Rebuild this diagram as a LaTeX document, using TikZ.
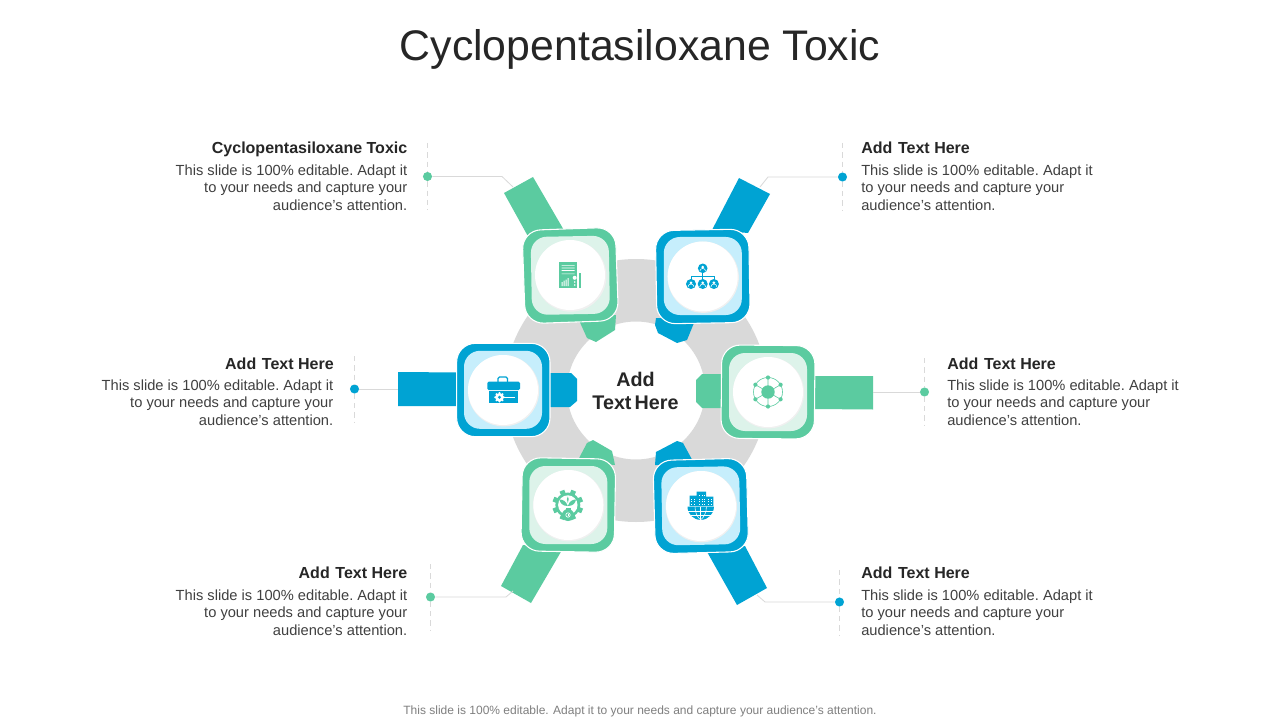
\documentclass[tikz,border=0pt]{standalone}
\usepackage{fontspec}
\setmainfont{Liberation Sans}
\definecolor{gr}{HTML}{5BCBA0}
\definecolor{bl}{HTML}{00A3D3}
\definecolor{lgr}{HTML}{DDF3EA}
\definecolor{lbl}{HTML}{C6EEFC}
\definecolor{ring}{HTML}{D9D9D9}
\definecolor{ttl}{HTML}{262626}
\definecolor{body}{HTML}{404040}
\definecolor{foot}{HTML}{7F7F7F}
\tikzset{
  x=0.75pt,y=-0.75pt,
  outerbox/.style={draw=white,line width=0.8pt,rounded corners=14pt,minimum size=70pt,inner sep=0pt},
  innerbox/.style={rounded corners=12pt,minimum size=58.5pt,inner sep=0pt},
  disc/.style={circle,fill=white,minimum size=52.5pt,inner sep=0pt},
  discshadow/.style={circle,fill=black!6,minimum size=53.5pt,inner sep=0pt},
  leader/.style={draw=ring,line width=0.6pt},
  dashrule/.style={draw=ring,line width=0.6pt,dash pattern=on 4pt off 3pt},
  dot/.style={circle,minimum size=6.8pt,inner sep=0pt},
  rtext/.style={anchor=north east,align=right,inner sep=0pt,text=body,font=\fontsize{11}{13.1}\selectfont\frenchspacing},
  ltext/.style={anchor=north west,align=left,inner sep=0pt,text=body,font=\fontsize{11}{13.1}\selectfont\frenchspacing},
  rhead/.style={anchor=base east,inner sep=0pt,text=ttl,font=\fontsize{12}{14}\selectfont\bfseries},
  lhead/.style={anchor=base west,inner sep=0pt,text=ttl,font=\fontsize{12}{14}\selectfont\bfseries},
}
\begin{document}
\begin{tikzpicture}
\useasboundingbox (0,0) rectangle (1280,720);
\fill[white] (0,0) rectangle (1280,720);
% title
\node[inner sep=0pt,text=ttl,font=\fontsize{32.1}{36}\selectfont] (title) at (640,49.5) {Cyclopentasiloxane Toxic};
% ring
\fill[ring,even odd rule] (636,390.5) circle (131.5) (636,390.5) circle (69);
% straps and tabs
\fill[gr] (504,193)--(533,177)--(565,232)--(530,240)--cycle;
\fill[gr] (578,318)--(616,315)--(615,330)--(596,342)--(587,338)--cycle;
\fill[bl] (739,178)--(770,194)--(748,233)--(712,230)--cycle;
\fill[bl] (656,318)--(696,318)--(687,340)--(677,343)--(658,333)--(655,325)--cycle;
\fill[bl] (398,372)--(460,372.5)--(460,406)--(398,406)--cycle;
\fill[bl] (548,373)--(571,373)--(577,379)--(577,401)--(570,407)--(548,407)--cycle;
\fill[gr] (812,376)--(873,376)--(873,409.5)--(812,409)--cycle;
\fill[gr] (724,374)--(702,374)--(696,380)--(696,402)--(702,408)--(724,408)--cycle;
\fill[gr] (523,545)--(562,550)--(531,603)--(501,586)--cycle;
\fill[gr] (577,462)--(587,443)--(593,440)--(612,451)--(615,465)--cycle;
\fill[bl] (706,550)--(745,546)--(767,588)--(737,605)--cycle;
\fill[bl] (655,465)--(656,452)--(677,441)--(683,443)--(695,465)--cycle;
% squares
\node[outerbox,fill=gr,rotate=2] (sqTL) at (570.3,275.5) {};
\node[innerbox,fill=lgr,rotate=1] (inTL) at (570.3,275.3) {};
\node[discshadow] at (570.8,276) {};
\node[disc] (cTL) at (570,275) {};
\node[outerbox,fill=bl,rotate=1] (sqTR) at (702.8,276.5) {};
\node[innerbox,fill=lbl] (inTR) at (702.8,276) {};
\node[discshadow] at (703.2,277.2) {};
\node[disc] (cTR) at (702.7,276.5) {};
\node[outerbox,fill=bl] (sqL) at (503.3,390) {};
\node[innerbox,fill=lbl] (inL) at (503,389.8) {};
\node[discshadow] at (503.5,390.7) {};
\node[disc] (cL) at (503,390) {};
\node[outerbox,fill=gr,rotate=-0.5] (sqR) at (768,392) {};
\node[innerbox,fill=lgr] (inR) at (768,392) {};
\node[discshadow] at (768.5,392.7) {};
\node[disc] (cR) at (768,392) {};
\node[outerbox,fill=gr,rotate=-1] (sqBL) at (568.3,505) {};
\node[innerbox,fill=lgr] (inBL) at (568.3,505) {};
\node[discshadow] at (568.8,505.7) {};
\node[disc] (cBL) at (568.3,505) {};
\node[outerbox,fill=bl,rotate=1.5] (sqBR) at (700.8,506) {};
\node[innerbox,fill=lbl,rotate=1] (inBR) at (700.8,505.8) {};
\node[discshadow] at (701.3,506.7) {};
\node[disc] (cBR) at (701,506) {};
% centre text
\node[inner sep=0pt,align=center,text=ttl,font=\fontsize{14.8}{17.3}\selectfont\bfseries] (centre) at (635.5,391) {Add\\Text\hspace{-0.12em} Here};
% icon: document
\fill[gr] (559.3,262.3) rectangle (576.7,287.7);
\fill[gr] (578.7,272.5) rectangle (580.7,287.7);
\fill[white] (561.5,265) rectangle (574.5,265.7) (561.5,267.6) rectangle (574.5,268.3) (561.5,270.2) rectangle (574.5,270.9) (561.5,273.5) rectangle (574.5,274.2);
\fill[white] (561.5,286) rectangle (562.5,282) (563.5,286) rectangle (564.5,280.5) (565.5,286) rectangle (566.5,279.5) (567.5,286) rectangle (568.5,278);
\fill[white] (574.7,277.8) circle (2) (574.7,282) circle (.9) (574.7,285) circle (.9);
% icon: org chart
\draw[bl,line width=0.6pt] (702.7,268) -- (702.7,284) (691,284) -- (691,276.7) -- (713.9,276.7) -- (713.9,284);
\fill[bl] (702.7,268.3) circle (4.8) (691,284) circle (5) (702.7,284) circle (5) (713.9,284) circle (5);
\fill[white] (702.7,267.2) circle (1.5) (691,282.8) circle (1.5) (702.7,282.8) circle (1.5) (713.9,282.8) circle (1.5);
\draw[white,line width=0.4pt] (699.8,271.3) arc (180:360:2.9) (688,287) arc (180:360:3) (699.7,287) arc (180:360:3) (710.9,287) arc (180:360:3);
% icon: toolbox
\draw[bl,line width=1pt] (498,382) -- (498,378.5) -- (499.5,377) -- (506,377) -- (507.5,378.5) -- (507.5,382);
\fill[bl,rounded corners=1pt] (487.3,381.7) rectangle (520,390);
\fill[bl] (488.5,391) rectangle (518.3,403.3);
\fill[white] (499.5,397.3) circle (4.3);
\foreach \a in {0,45,...,315}{\fill[white] ([shift={(\a:4.2)}]499.5,397.3) circle (1.15);}
\fill[bl] (499.5,397.3) circle (1.6);
\fill[white] (503,396.8) rectangle (514.5,397.8);
% icon: network
\draw[gr,line width=0.45pt] (768,392) circle (14.5);
\draw[gr,line width=0.45pt] (768,377.5) -- (768,406.5) (780.6,384.7) -- (755.4,399.3) (780.6,399.3) -- (755.4,384.7);
\fill[gr] (768,392) circle (6.7);
\fill[gr] (768,377.5) circle (2.1) (780.6,384.7) circle (2.1) (780.6,399.3) circle (2.1) (768,406.5) circle (2.1) (755.4,399.3) circle (2.1) (755.4,384.7) circle (2.1);
% icon: gear with plant and bag
\foreach \a in {0,45,...,315}{\fill[gr,rotate around={\a+22.5:(567.8,505)}] (565.3,489.5) rectangle (570.3,495);}
\fill[gr] (567.8,505) circle (12.5);
\fill[white] (567.8,505) circle (9.7);
\fill[gr] (567.8,506) .. controls (566,501) and (563,499.5) .. (559.5,499.5) .. controls (560,503.5) and (563,506) .. (567.8,506) -- cycle;
\fill[gr] (567.8,506) .. controls (569.5,501) and (572.5,499.5) .. (576,499.5) .. controls (575.5,503.5) and (572.5,506) .. (567.8,506) -- cycle;
\fill[gr] (567.8,503) .. controls (566.3,500) and (566.8,498) .. (567.8,496.5) .. controls (568.8,498) and (569.3,500) .. (567.8,503) -- cycle;
\fill[gr] (565.5,508) rectangle (570.5,510);
\fill[gr] (568,515) circle (6);
\draw[white,line width=0.5pt] (568,515) circle (2.2);
\fill[white] (567.6,513.8) rectangle (568.4,516.2);
% icon: buildings and globe
\fill[bl] (689.5,495.7) rectangle (696.7,506) (696.7,491.7) rectangle (706,506) (706,496.7) rectangle (713.3,506);
\foreach \xx in {691,693.5,699,701.5,704,708,710.5}{\foreach \yy in {498.5,501,503.5}{\fill[white] (\xx,\yy) rectangle +(1.1,1.3);}}
\foreach \xx in {699,701.5,704}{\fill[white] (\xx,494.5) rectangle +(1.1,1.3);}
\fill[bl] (687.5,506.7) arc (180:0:13.2) -- cycle;
\draw[white,line width=0.4pt] (700.7,506.7) -- (700.7,519.9) (687.9,511) -- (713.5,511) (690.5,515.5) -- (711,515.5);
\draw[white,line width=0.4pt] (695,506.7) .. controls (695,512) and (697,517) .. (700.7,519.9) (706.4,506.7) .. controls (706.4,512) and (704.4,517) .. (700.7,519.9);
% connectors
\node[dot,fill=gr] (dotTL) at (427.5,176.5) {};
\coordinate (bendTL) at (502,176.5);
\coordinate (endTL) at (513,187);
\coordinate (dTLa) at (427.5,143);
\coordinate (dTLb) at (427.5,210);
\draw[dashrule] (dTLa) -- (dotTL.north) (dotTL.south) -- (dTLb);
\draw[leader] (dotTL) -- (bendTL) -- (endTL);
\node[dot,fill=bl] (dotTR) at (842.5,177) {};
\coordinate (bendTR) at (768,177);
\coordinate (endTR) at (760,187);
\coordinate (dTRa) at (842.5,143);
\coordinate (dTRb) at (842.5,210);
\draw[dashrule] (dTRa) -- (dotTR.north) (dotTR.south) -- (dTRb);
\draw[leader] (dotTR) -- (bendTR) -- (endTR);
\node[dot,fill=bl] (dotL) at (354.5,389) {};
\coordinate (endL) at (398,389);
\coordinate (dLa) at (354.5,356);
\coordinate (dLb) at (354.5,422);
\draw[dashrule] (dLa) -- (dotL.north) (dotL.south) -- (dLb);
\draw[leader] (dotL) -- (endL);
\node[dot,fill=gr] (dotR) at (924.5,392) {};
\coordinate (endR) at (873,392);
\coordinate (dRa) at (924.5,358);
\coordinate (dRb) at (924.5,426);
\draw[dashrule] (dRa) -- (dotR.north) (dotR.south) -- (dRb);
\draw[leader] (dotR) -- (endR);
\node[dot,fill=gr] (dotBL) at (430.5,597) {};
\coordinate (bendBL) at (506,597);
\coordinate (endBL) at (513,591);
\coordinate (dBLa) at (430.5,564);
\coordinate (dBLb) at (430.5,630);
\draw[dashrule] (dBLa) -- (dotBL.north) (dotBL.south) -- (dBLb);
\draw[leader] (dotBL) -- (bendBL) -- (endBL);
\node[dot,fill=bl] (dotBR) at (839.5,602) {};
\coordinate (bendBR) at (765,602);
\coordinate (endBR) at (757,595);
\coordinate (dBRa) at (839.5,570);
\coordinate (dBRb) at (839.5,636);
\draw[dashrule] (dBRa) -- (dotBR.north) (dotBR.south) -- (dBRb);
\draw[leader] (dotBR) -- (bendBR) -- (endBR);
% texts
\node[rhead] (hTL) at (407.5,154) {Cyclopentasiloxane Toxic};
\node[rtext] (tTL) at (407.5,164.5) {This slide is 100\% editable. Adapt it\\to your needs and capture your\\audience's attention.};
\node[lhead] (hTR) at (861,154) {Add\hspace{0.08em} Text Here};
\node[ltext] (tTR) at (861,164.5) {This slide is 100\% editable. Adapt it\\to your needs and capture your\\audience's attention.};
\node[rhead] (hL) at (334,369) {Add\hspace{0.08em} Text Here};
\node[rtext] (tL) at (333.5,379.5) {This slide is 100\% editable. Adapt it\\to your needs and capture your\\audience's attention.};
\node[lhead] (hR) at (947,369) {Add\hspace{0.08em} Text Here};
\node[ltext] (tR) at (947,379.5) {This slide is 100\% editable. Adapt it\\to your needs and capture your\\audience's attention.};
\node[rhead] (hBL) at (407.5,578) {Add\hspace{0.08em} Text Here};
\node[rtext] (tBL) at (407.5,589.5) {This slide is 100\% editable. Adapt it\\to your needs and capture your\\audience's attention.};
\node[lhead] (hBR) at (861,578) {Add\hspace{0.08em} Text Here};
\node[ltext] (tBR) at (861,589.5) {This slide is 100\% editable. Adapt it\\to your needs and capture your\\audience's attention.};
\node[inner sep=0pt,text=foot,font=\fontsize{9}{11}\selectfont] (footer) at (640,711) {This slide is 100\% editable. Adapt it to your needs and capture your audience's attention.};
\end{tikzpicture}
\end{document}
